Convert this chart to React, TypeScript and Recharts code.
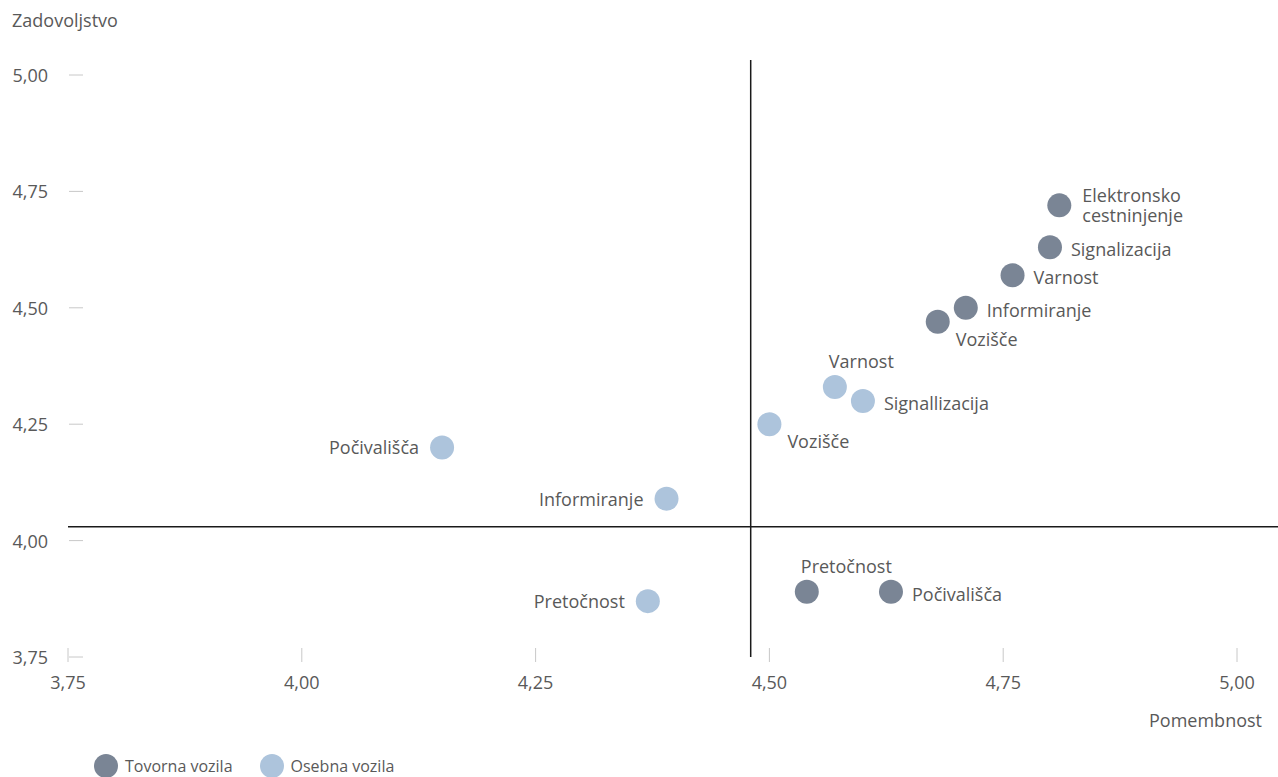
import React from "react";
import {
  ScatterChart,
  Scatter,
  XAxis,
  YAxis,
  ReferenceLine,
  Legend,
} from "recharts";

const TICKS = [3.75, 4.0, 4.25, 4.5, 4.75, 5.0];

const freightNames = [
  "Elektronsko cestninjenje",
  "Signalizacija",
  "Varnost",
  "Informiranje",
  "Vozišče",
  "Pretočnost",
  "Počivališča",
];
const freightImportance = [4.81, 4.8, 4.76, 4.71, 4.68, 4.54, 4.63];
const freightSatisfaction = [4.72, 4.63, 4.57, 4.5, 4.47, 3.89, 3.89];

const carNames = [
  "Varnost",
  "Signallizacija",
  "Vozišče",
  "Počivališča",
  "Informiranje",
  "Pretočnost",
];
const carImportance = [4.57, 4.6, 4.5, 4.15, 4.39, 4.37];
const carSatisfaction = [4.33, 4.3, 4.25, 4.2, 4.09, 3.87];

const QUADRANT_X = 4.48;
const QUADRANT_Y = 4.03;

const DARK = "#7a8595";
const LIGHT = "#adc4dc";
const TEXT = "#595959";
const TICK_GRAY = "#c8c8c8";
const FONT = "'Open Sans', sans-serif";
const FS = 18;

// where each point's label sits relative to the dot
const freightLabelPlace: Record<string, string> = {
  "Elektronsko cestninjenje": "right2",
  Signalizacija: "right",
  Varnost: "right",
  Informiranje: "right",
  Vozišče: "belowRight",
  Pretočnost: "above",
  Počivališča: "right",
};
const carLabelPlace: Record<string, string> = {
  Varnost: "above",
  Signallizacija: "right",
  Vozišče: "belowRight",
  Počivališča: "left",
  Informiranje: "left",
  Pretočnost: "left",
};

const freightData = freightNames.map((name, i) => ({
  name,
  x: freightImportance[i],
  y: freightSatisfaction[i],
}));
const carData = carNames.map((name, i) => ({
  name,
  x: carImportance[i],
  y: carSatisfaction[i],
}));

const fmt = (v: number) => v.toFixed(2).replace(".", ",");

function makeDot(color: string, places: Record<string, string>) {
  return (props: any) => {
    const { cx, cy, payload } = props;
    const place = places[payload.name] ?? "right";
    const common = { fill: TEXT, fontSize: FS, fontFamily: FONT, dominantBaseline: "central" as const };
    let label: React.ReactNode = null;
    if (place === "right") {
      label = <text x={cx + 21} y={cy + 2} textAnchor="start" {...common}>{payload.name}</text>;
    } else if (place === "left") {
      label = <text x={cx - 23} y={cy} textAnchor="end" {...common}>{payload.name}</text>;
    } else if (place === "above") {
      label = <text x={cx - 6} y={cy - 26} textAnchor="start" {...common}>{payload.name}</text>;
    } else if (place === "belowRight") {
      label = <text x={cx + 18} y={cy + 17} textAnchor="start" {...common}>{payload.name}</text>;
    } else if (place === "right2") {
      const parts = payload.name.split(" ");
      label = (
        <g>
          <text x={cx + 23} y={cy - 10} textAnchor="start" {...common}>{parts[0]}</text>
          <text x={cx + 23} y={cy + 10} textAnchor="start" {...common}>{parts.slice(1).join(" ")}</text>
        </g>
      );
    }
    return (
      <g>
        <circle cx={cx} cy={cy} r={12} fill={color} />
        {label}
      </g>
    );
  };
}

function XTick(props: any) {
  const { x, payload } = props;
  return (
    <g>
      <line x1={x} x2={x} y1={648} y2={662} stroke={TICK_GRAY} strokeWidth={1} />
      <text x={x} y={682} textAnchor="middle" dominantBaseline="central" fill={TEXT} fontSize={FS} fontFamily={FONT}>
        {fmt(payload.value)}
      </text>
    </g>
  );
}

function YTick(props: any) {
  const { y, payload } = props;
  return (
    <g>
      <line x1={69} x2={83} y1={y} y2={y} stroke={TICK_GRAY} strokeWidth={1} />
      <text x={48} y={y} textAnchor="end" dominantBaseline="central" fill={TEXT} fontSize={FS} fontFamily={FONT}>
        {fmt(payload.value)}
      </text>
    </g>
  );
}

function LegendContent() {
  const items = [
    { label: "Tovorna vozila", color: DARK },
    { label: "Osebna vozila", color: LIGHT },
  ];
  return (
    <div style={{ display: "flex", alignItems: "center", fontFamily: FONT, fontSize: 16, color: TEXT }}>
      {items.map((it) => (
        <div key={it.label} style={{ display: "flex", alignItems: "center", marginRight: 27 }}>
          <svg width={24} height={24} style={{ marginRight: 7 }}>
            <circle cx={12} cy={12} r={12} fill={it.color} />
          </svg>
          <span>{it.label}</span>
        </div>
      ))}
    </div>
  );
}

export default function App() {
  return (
    <div style={{ position: "absolute", left: 0, top: 0, width: 1278, height: 777, background: "#fff", overflow: "hidden" }}>
      <ScatterChart width={1278} height={777} margin={{ top: 75, right: 41, bottom: 66, left: 0 }}>
        <XAxis
          type="number"
          dataKey="x"
          domain={[3.75, 5]}
          ticks={TICKS}
          height={30}
          axisLine={false}
          tickLine={false}
          tick={<XTick />}
          interval={0}
        />
        <YAxis
          type="number"
          dataKey="y"
          domain={[3.75, 5]}
          ticks={TICKS}
          width={68}
          axisLine={false}
          tickLine={false}
          tick={<YTick />}
          interval={0}
        />
        <ReferenceLine
          segment={[
            { x: QUADRANT_X, y: 3.75 },
            { x: QUADRANT_X, y: 5.032 },
          ]}
          stroke="#1a1a1a"
          strokeWidth={1.5}
          ifOverflow="visible"
        />
        <ReferenceLine
          segment={[
            { x: 3.75, y: QUADRANT_Y },
            { x: 5.045, y: QUADRANT_Y },
          ]}
          stroke="#1a1a1a"
          strokeWidth={1.5}
          ifOverflow="visible"
        />
        <Scatter
          name="Tovorna vozila"
          data={freightData}
          fill={DARK}
          shape={makeDot(DARK, freightLabelPlace)}
          isAnimationActive={false}
        />
        <Scatter
          name="Osebna vozila"
          data={carData}
          fill={LIGHT}
          shape={makeDot(LIGHT, carLabelPlace)}
          isAnimationActive={false}
        />
        <Legend
          content={<LegendContent />}
          wrapperStyle={{ position: "absolute", left: 94, top: 754, width: 400 }}
        />
        <text x={12} y={20} dominantBaseline="central" fill={TEXT} fontSize={FS} fontFamily={FONT}>
          Zadovoljstvo
        </text>
        <text x={1262} y={720} textAnchor="end" dominantBaseline="central" fill={TEXT} fontSize={FS} fontFamily={FONT}>
          Pomembnost
        </text>
      </ScatterChart>
    </div>
  );
}
